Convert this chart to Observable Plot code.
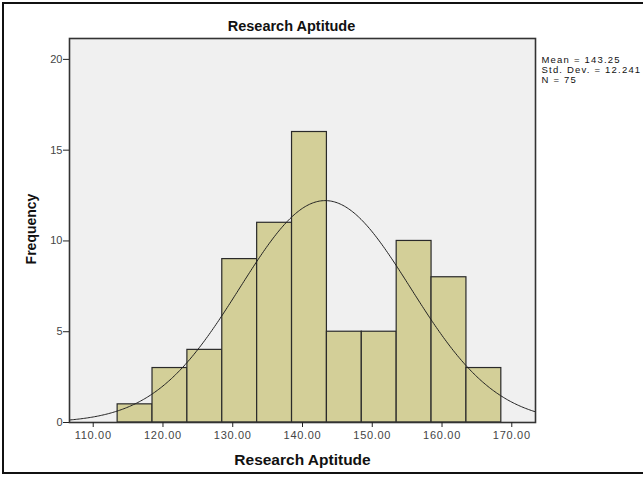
<!DOCTYPE html>
<html>
<head>
<meta charset="utf-8">
<script src="https://cdn.jsdelivr.net/npm/d3@7"></script>
<script src="https://cdn.jsdelivr.net/npm/@observablehq/plot@0.6"></script>
<style>
  html, body { margin: 0; padding: 0; background: #fff; }
  #wrap { position: relative; width: 643px; height: 479px; overflow: hidden; }
  #border { position: absolute; left: 2px; top: 2px; width: 700px; height: 472px;
            border: 2px solid #111; box-sizing: border-box; }
  #chart { position: absolute; left: 0; top: 0; }
</style>
</head>
<body>
<div id="wrap"><div id="border"></div><div id="chart"></div></div>
<script>
const binStart = [113.5, 118.5, 123.5, 128.5, 133.5, 138.5, 143.5, 148.5, 153.5, 158.5, 163.5];
const binWidth = 5;
const frequency = [1, 3, 4, 9, 11, 16, 5, 5, 10, 8, 3];
const xTicks = [110, 120, 130, 140, 150, 160, 170];
const yTicks = [0, 5, 10, 15, 20];
const mean = 143.25, stdDev = 12.241, N = 75;
const xDomain = [106.6, 173.4];

const bars = binStart.map((s, i) => ({x1: s, x2: s + binWidth, y: frequency[i]}));
const k = N * binWidth / (stdDev * Math.sqrt(2 * Math.PI));
const curve = d3.range(xDomain[0], xDomain[1] + 0.2, 0.2).map(x => ({x, y: k * Math.exp(-0.5 * ((x - mean) / stdDev) ** 2)}));

const font = "Liberation Sans, Arial, sans-serif";
const chart = Plot.plot({
  width: 643, height: 479,
  marginLeft: 69, marginRight: 108, marginTop: 38, marginBottom: 57,
  style: {fontFamily: font, background: "transparent", overflow: "visible"},
  x: {domain: xDomain},
  y: {domain: [0, 21.15]},
  marks: [
    Plot.frame({fill: "#f0f0f0", stroke: null}),
    Plot.rectY(bars, {x1: "x1", x2: "x2", y: "y", fill: "#d3cf98", stroke: "#2a2a2a", strokeWidth: 1.2}),
    Plot.line(curve, {x: "x", y: "y", stroke: "#222", strokeWidth: 1, clip: true}),
    Plot.frame({stroke: "#333", strokeWidth: 1.6}),
    Plot.axisX({ticks: xTicks, tickFormat: d3.format(".2f"), tickSize: 5, tickPadding: 4, fontSize: 11, color: "#444", stroke: "#222", label: null}),
    Plot.axisY({ticks: yTicks, tickSize: 6, tickPadding: 1, fontSize: 11, color: "#444", stroke: "#222", label: null}),
    Plot.text(["Research Aptitude"], {frameAnchor: "top", lineAnchor: "middle", dy: -12, dx: -11, fontSize: 14.5, fontWeight: "bold", fill: "#111"}),
    Plot.text(["Research Aptitude"], {frameAnchor: "bottom", lineAnchor: "middle", dy: 38, fontSize: 15.5, fontWeight: "bold", fill: "#111"}),
    Plot.text(["Frequency"], {frameAnchor: "left", textAnchor: "middle", rotate: -90, fontSize: 14, fontWeight: "bold", fill: "#111"}),
    Plot.text([`Mean = ${mean}\nStd. Dev. = ${stdDev}\nN = ${N}`], {frameAnchor: "top-right", dx: 6, dy: 17, textAnchor: "start", lineAnchor: "top", fontSize: 9.5, lineHeight: 1.05, fill: "#111"})
  ]
});
const svg = d3.select(chart);
svg.selectAll('g[aria-label="x-axis tick label"] text').style("letter-spacing", "0.7px");
svg.selectAll('g[aria-label="text"] text').filter(function() { return this.textContent.includes("Mean"); }).style("letter-spacing", "1.2px");
svg.selectAll('g[aria-label="text"] text').filter(function() { return this.textContent === "Frequency"; })
  .attr("text-anchor", "middle")
  .attr("transform", "translate(36,229) rotate(-90)")
  .attr("x", null).attr("y", null)
  .each(function() { if (this.parentNode.getAttribute("transform")) this.parentNode.removeAttribute("transform"); });
document.getElementById("chart").append(chart);
</script>
</body>
</html>
